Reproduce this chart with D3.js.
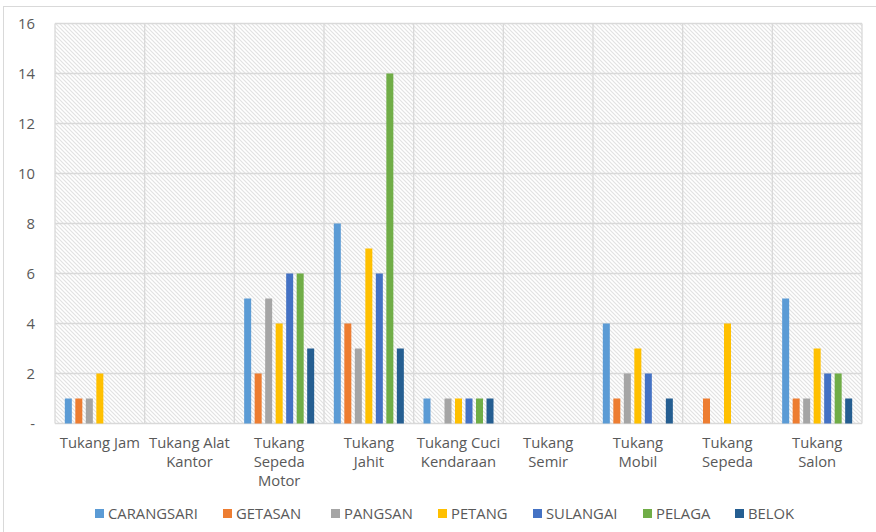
<!DOCTYPE html>
<html><head><meta charset="utf-8">
<script src="https://cdn.jsdelivr.net/npm/d3@7"></script>
<style>body{margin:0;background:#fff;}svg{display:block;font-family:"Open Sans",sans-serif;}</style>
</head><body>
<svg id="chart" width="876" height="532"></svg>
<script>
const categories = [["Tukang Jam"],["Tukang Alat","Kantor"],["Tukang","Sepeda","Motor"],["Tukang","Jahit"],["Tukang Cuci","Kendaraan"],["Tukang","Semir"],["Tukang","Mobil"],["Tukang","Sepeda"],["Tukang","Salon"]];
const seriesNames = ["CARANGSARI","GETASAN","PANGSAN","PETANG","SULANGAI","PELAGA","BELOK"];
const seriesColors = ["#5B9BD5","#ED7D31","#A5A5A5","#FFC000","#4472C4","#70AD47","#255E91"];
const CARANGSARI = [1,0,5,8,1,0,4,0,5];
const GETASAN    = [1,0,2,4,0,0,1,1,1];
const PANGSAN    = [1,0,5,3,1,0,2,0,1];
const PETANG     = [2,0,4,7,1,0,3,4,3];
const SULANGAI   = [0,0,6,6,1,0,2,0,2];
const PELAGA     = [0,0,6,14,1,0,0,0,2];
const BELOK      = [0,0,3,3,1,0,1,0,1];
const yTicks = [0,2,4,6,8,10,12,14,16];
const yTickLabels = ["-","2","4","6","8","10","12","14","16"];

const series = [CARANGSARI,GETASAN,PANGSAN,PETANG,SULANGAI,PELAGA,BELOK];
const svg = d3.select("#chart");
const L = 55, R = 862, T = 23.5, B = 423.5;
const FS = "14.8px";

svg.append("rect").attr("x",3.5).attr("y",6.5).attr("width",900).attr("height",600)
  .attr("fill","#fff").attr("stroke","#d9d9d9").attr("stroke-width",1);

const defs = svg.append("defs");
const pat = defs.append("pattern").attr("id","hatch").attr("patternUnits","userSpaceOnUse")
  .attr("width",4).attr("height",4);
pat.append("rect").attr("width",4).attr("height",4).attr("fill","#fff");
pat.append("path").attr("d","M-1,-1 L5,5 M-1,3 L1,5 M3,-1 L5,1").attr("stroke","#e2e2e2").attr("stroke-width",1.2);

const catIdx = d3.range(categories.length);
const x0 = d3.scaleBand().domain(catIdx).range([L,R]).paddingInner(0).paddingOuter(0);
const x1 = d3.scaleBand().domain(d3.range(series.length)).range([0,x0.bandwidth()]).paddingInner(0.333).paddingOuter(0.935);
const y = d3.scaleLinear().domain([0,16]).range([B,T]);

svg.append("rect").attr("x",L).attr("y",T).attr("width",R-L).attr("height",B-T).attr("fill","url(#hatch)");

svg.append("g").selectAll("line").data(yTicks).join("line")
  .attr("x1",L).attr("x2",R).attr("y1",d=>y(d)).attr("y2",d=>y(d))
  .attr("stroke","#d9d9d9").attr("stroke-width",1.3);
svg.append("g").selectAll("line").data(d3.range(categories.length+1)).join("line")
  .attr("x1",d=>L+d*x0.bandwidth()).attr("x2",d=>L+d*x0.bandwidth()).attr("y1",T).attr("y2",B)
  .attr("stroke","#d9d9d9").attr("stroke-width",1.3);

const g = svg.append("g");
series.forEach((vals,si)=>{
  g.append("g").selectAll("rect").data(vals).join("rect")
    .attr("x",(d,i)=>x0(i)+x1(si)).attr("width",x1.bandwidth())
    .attr("y",d=>y(d)).attr("height",d=>y(0)-y(d))
    .attr("fill",seriesColors[si]);
});

const yAxis = d3.axisLeft(y).tickValues(yTicks).tickFormat((d,i)=>yTickLabels[i]).tickSize(0).tickPadding(0);
const ya = svg.append("g").attr("transform",`translate(35,0)`).call(yAxis);
ya.select(".domain").remove();
ya.selectAll("text").attr("fill","#595959").attr("font-size",FS).attr("font-family","'Open Sans',sans-serif");

const xl = svg.append("g");
categories.forEach((lines,i)=>{
  const cx = x0(i)+x0.bandwidth()/2;
  const t = xl.append("text").attr("x",cx).attr("y",448)
    .attr("text-anchor","middle").attr("fill","#595959").attr("font-size",FS);
  lines.forEach((ln,k)=>t.append("tspan").attr("x",cx).attr("dy",k===0?0:19).text(ln));
});

const legX = [95,223,331,438,533,643,735];
const lg = svg.append("g");
seriesNames.forEach((n,i)=>{
  lg.append("rect").attr("x",legX[i]).attr("y",509).attr("width",9).attr("height",9).attr("fill",seriesColors[i]);
  lg.append("text").attr("x",legX[i]+13).attr("y",518.5).attr("fill","#595959").attr("font-size",FS).text(n);
});
</script>
</body></html>
